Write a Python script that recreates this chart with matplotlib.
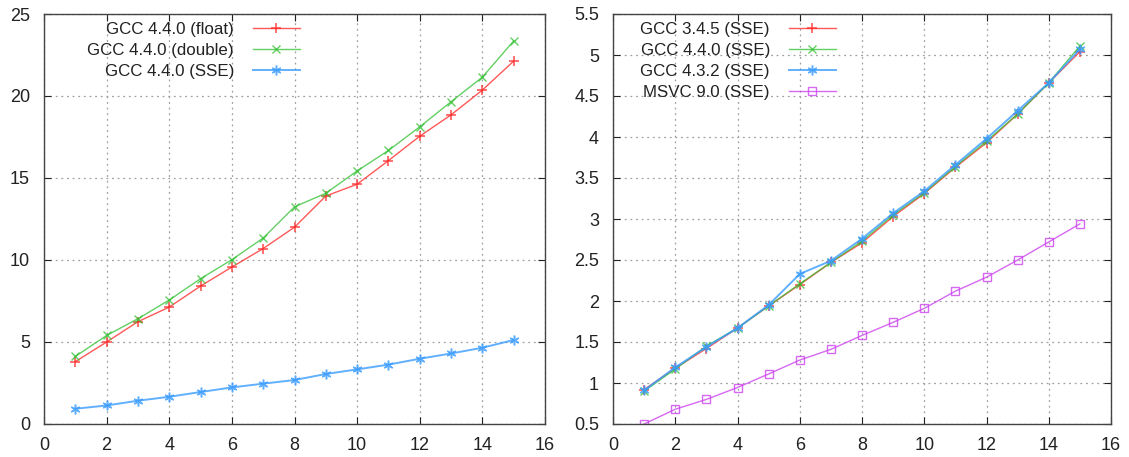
import matplotlib
matplotlib.use('Agg')
import matplotlib.pyplot as plt

plt.rcParams['font.family'] = ['Liberation Sans', 'DejaVu Sans']

x = list(range(1, 16))

# left panel
gcc440_float = [3.8, 5.0, 6.24, 7.13, 8.41, 9.57, 10.7, 12.0, 13.9, 14.62,
                16.06, 17.55, 18.85, 20.36, 22.13]
gcc440_double = [4.12, 5.4, 6.42, 7.56, 8.86, 10.02, 11.34, 13.24, 14.07, 15.43,
                 16.68, 18.12, 19.65, 21.15, 23.36]
gcc440_sse = [0.93, 1.13, 1.42, 1.66, 1.95, 2.23, 2.46, 2.68, 3.05, 3.33,
              3.62, 3.98, 4.3, 4.65, 5.12]

# right panel
gcc345_sse = [0.92, 1.18, 1.42, 1.67, 1.94, 2.2, 2.47, 2.71, 3.03, 3.31,
              3.63, 3.93, 4.28, 4.66, 5.04]
gcc440_sse_r = [0.9, 1.17, 1.45, 1.67, 1.94, 2.21, 2.47, 2.73, 3.05, 3.32,
                3.64, 3.95, 4.28, 4.66, 5.11]
gcc432_sse = [0.91, 1.19, 1.44, 1.67, 1.95, 2.33, 2.49, 2.76, 3.07, 3.34,
              3.66, 3.98, 4.32, 4.66, 5.07]
msvc90_sse = [0.5, 0.68, 0.8, 0.945, 1.11, 1.28, 1.41, 1.58, 1.74, 1.91,
              2.12, 2.29, 2.5, 2.72, 2.94]

RED = '#ff2020'
GREEN = '#30c030'
BLUE = '#3a9cff'
MAGENTA = '#cc44ee'

W, H = 1129, 457


def style_axes(ax, ylim, yticks, ylabels):
    ax.set_xlim(0, 16)
    ax.set_ylim(*ylim)
    ax.set_xticks(range(0, 17, 2))
    ax.set_yticks(yticks)
    ax.set_yticklabels(ylabels)
    ax.tick_params(direction='in', top=True, right=True, length=5,
                   labelsize=13, colors='#222222')
    ax.tick_params(axis='x', pad=9)
    ax.tick_params(axis='y', pad=10)
    ax.grid(True, linestyle=(0, (1.5, 3)), color='#a0a0a0', linewidth=0.9)
    for s in ax.spines.values():
        s.set_color('#444444')
        s.set_linewidth(1.0)


fig = plt.figure(figsize=(W / 100, H / 100), dpi=100)
ax1 = fig.add_axes([44 / W, 33 / H, 501 / W, 410 / H])
ax2 = fig.add_axes([613 / W, 33 / H, 498 / W, 410 / H])

ax1.plot(x, gcc440_float, color=RED, lw=1.0, alpha=0.75, marker='+', ms=7,
         mew=1.2, label='GCC 4.4.0 (float)')
ax1.plot(x, gcc440_double, color=GREEN, lw=1.0, alpha=0.75, marker='x', ms=6,
         mew=1.0, label='GCC 4.4.0 (double)')
ax1.plot(x, gcc440_sse, color=BLUE, lw=1.4, alpha=0.8, marker=(6, 2, 0), ms=7,
         mew=1.1, label='GCC 4.4.0 (SSE)')
style_axes(ax1, (0, 25), [0, 5, 10, 15, 20, 25],
           ['0', '5', '10', '15', '20', '25'])

ax2.plot(x, gcc345_sse, color=RED, lw=1.0, alpha=0.75, marker='+', ms=7,
         mew=1.2, label='GCC 3.4.5 (SSE)')
ax2.plot(x, gcc440_sse_r, color=GREEN, lw=1.0, alpha=0.75, marker='x', ms=6,
         mew=1.0, label='GCC 4.4.0 (SSE)')
ax2.plot(x, gcc432_sse, color=BLUE, lw=1.4, alpha=0.8, marker=(6, 2, 0), ms=7,
         mew=1.1, label='GCC 4.3.2 (SSE)')
ax2.plot(x, msvc90_sse, color=MAGENTA, lw=1.0, alpha=0.8, marker='s', ms=5.5,
         mew=1.0, mfc='none', label='MSVC 9.0 (SSE)')
yt = [0.5, 1, 1.5, 2, 2.5, 3, 3.5, 4, 4.5, 5, 5.5]
style_axes(ax2, (0.5, 5.5), yt, ['%g' % v for v in yt])

# legends: text right-aligned, sample line to the right (gnuplot style)
for ax, right_px in ((ax1, 300), (ax2, 836)):
    leg = ax.legend(loc='upper right', markerfirst=False, frameon=False,
                    fontsize=12.2, handlelength=2.8, handletextpad=1.1,
                    labelspacing=0.36, numpoints=1, borderpad=0,
                    borderaxespad=0,
                    bbox_to_anchor=(right_px / W, 1 - 22 / H),
                    bbox_transform=fig.transFigure)
    for t in leg.get_texts():
        t.set_ha('right')
        t.set_color('#222222')
    leg._legend_box.align = 'right'

fig.savefig('out.png', dpi=100, facecolor='white')
